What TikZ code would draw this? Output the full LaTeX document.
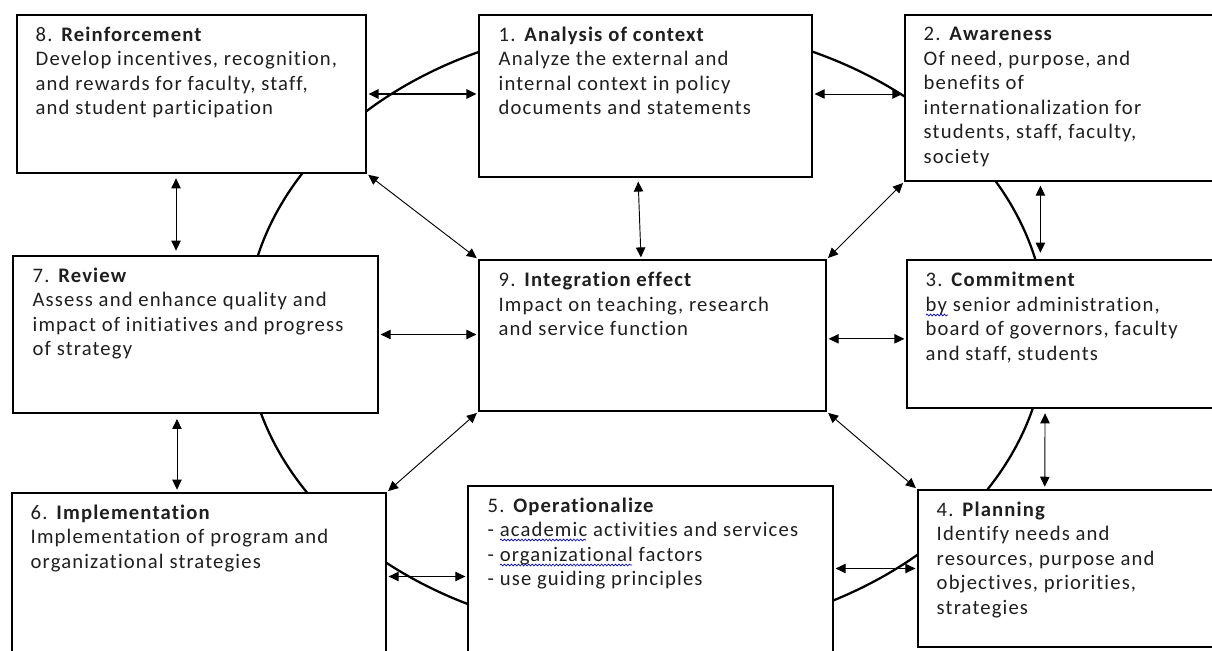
\documentclass[tikz,border=0pt]{standalone}
\usepackage{fontspec}
\setmainfont{Carlito}[LetterSpace=5.5,Ligatures={NoCommon}]
\usetikzlibrary{arrows.meta,fit,calc,decorations.pathmorphing}
\begin{document}
\begin{tikzpicture}[x=0.75pt,y=-0.75pt,
  box/.style={draw, line width=0.9pt, fill=white, inner sep=0pt},
  txt/.style={anchor=north west, inner sep=0pt, align=left, font=\fontsize{15.5}{18.4}\selectfont, text=black!88},
  ring/.style={line width=1.7pt},
  link/.style={{Triangle[length=7.5pt,width=7pt]}-{Triangle[length=7.5pt,width=7pt]}, line width=0.7pt, shorten <=1.5pt, shorten >=1.5pt},
  spellwave/.style={draw=blue!80!black, line width=0.5pt, decorate, decoration={snake, segment length=2.6pt, amplitude=0.7pt}},
]
\useasboundingbox (0,0) rectangle (1212,650);
\clip (0,0) rectangle (1212,650);
\fill[white] (0,0) rectangle (1212,650);
\draw[ring] (646,330) ellipse [x radius=300pt, y radius=229.5pt];
% boxes
\node[box, fit={(17,15) (366,173)}] (b8) {};
\node[box, fit={(479,15) (812,177)}] (b1) {};
\node[box, fit={(905,15) (1222,181)}] (b2) {};
\node[box, fit={(13,256) (378,413)}] (b7) {};
\node[box, fit={(479,260) (826,411)}] (b9) {};
\node[box, fit={(907,260) (1222,408)}] (b3) {};
\node[box, fit={(12,493) (386,660)}] (b6) {};
\node[box, fit={(468,486) (833,660)}] (b5) {};
\node[box, fit={(918,490) (1222,647)}] (b4) {};
% texts
\node[txt] (t8) at ([xshift=14.3pt,yshift=-5.5pt]b8.north west) {\rule{0pt}{14.5pt}8. \textbf{Reinforcement}\\Develop incentives, recognition,\\and rewards for faculty, staff,\\and student participation};
\node[txt] (t1) at ([xshift=15pt,yshift=-5.5pt]b1.north west) {\rule{0pt}{14.5pt}1. \textbf{Analysis of context}\\Analyze the external and\\internal context in policy\\documents and statements};
\node[txt] (t2) at ([xshift=14.3pt,yshift=-5.0pt]b2.north west) {\rule{0pt}{14.5pt}2. \textbf{Awareness}\\Of need, purpose, and\\benefits of\\internationalization for\\students, staff, faculty,\\society};
\node[txt] (t7) at ([xshift=15pt,yshift=-5.5pt]b7.north west) {\rule{0pt}{14.5pt}7. \textbf{Review}\\Assess and enhance quality and\\impact of initiatives and progress\\of strategy};
\node[txt] (t9) at ([xshift=15pt,yshift=-5.7pt]b9.north west) {\rule{0pt}{14.5pt}9. \textbf{Integration effect}\\Impact on teaching, research\\and service function};
\node[txt] (t3) at ([xshift=14.3pt,yshift=-5.7pt]b3.north west) {\rule{0pt}{14.5pt}3. \textbf{Commitment}\\by senior administration,\\board of governors, faculty\\and staff, students};
\node[txt] (t6) at ([xshift=14.3pt,yshift=-5.5pt]b6.north west) {\rule{0pt}{14.5pt}6. \textbf{Implementation}\\Implementation of program and\\organizational strategies};
\node[txt] (t5) at ([xshift=15pt,yshift=-5.3pt]b5.north west) {\rule{0pt}{14.5pt}5. \textbf{Operationalize}\\- academic activities and services\\- organizational factors\\- use guiding principles};
\node[txt] (t4) at ([xshift=14.3pt,yshift=-5.5pt]b4.north west) {\rule{0pt}{14.5pt}4. \textbf{Planning}\\Identify needs and\\resources, purpose and\\objectives, priorities,\\strategies};
% spell-check underlines
\path[spellwave] (926,315) -- (948,315);
\path[spellwave] (500,540) -- (586,540);
\path[spellwave] (500,565) -- (632,565);
% connectors
\draw[link, line width=1.4pt] (b8.east) -- (b8.east -| b1.west);
\draw[link] ([yshift=1.5pt]b1.east) -- ([yshift=1.5pt]b1.east -| b2.west);
\coordinate (c87) at ([xshift=-11.6pt]b8.south);
\draw[link, shorten <=3.5pt, shorten >=3.5pt] (c87) -- (c87 |- b7.north);
\coordinate (c76) at ([xshift=-13.9pt]b7.south);
\draw[link, shorten <=4pt, shorten >=2pt] (c76) -- (c76 |- b6.north);
\coordinate (c23) at ([xshift=102pt]b2.south west);
\draw[link, shorten <=3pt, shorten >=5pt] (c23) -- (c23 |- b3.north);
\coordinate (c34) at ([xshift=104pt]b3.south west);
\coordinate (c43) at ([xshift=95.5pt]b4.north west);
\draw[link, shorten <=3.5pt, shorten >=2pt] (c34) -- (c43);
\draw[link] (b7.east) -- (b7.east -| b9.west);
\draw[link] ([yshift=-2.5pt]b9.east) -- ([yshift=-2.5pt]b9.east -| b3.west);
\draw[link] (b6.east) -- (b6.east -| b5.west);
\draw[link] (b4.west) -- (b4.west -| b5.east);
\draw[link, shorten <=3pt] ([xshift=-5.6pt]b1.south) -- ([xshift=-8.6pt]b9.north);
\draw[link] (b8.south east) -- (b9.north west);
\draw[link] (b2.south west) -- (b9.north east);
\draw[link] (b9.south east) -- (b4.north west);
\draw[link] (b9.south west) -- (b6.north east);
\end{tikzpicture}
\end{document}
